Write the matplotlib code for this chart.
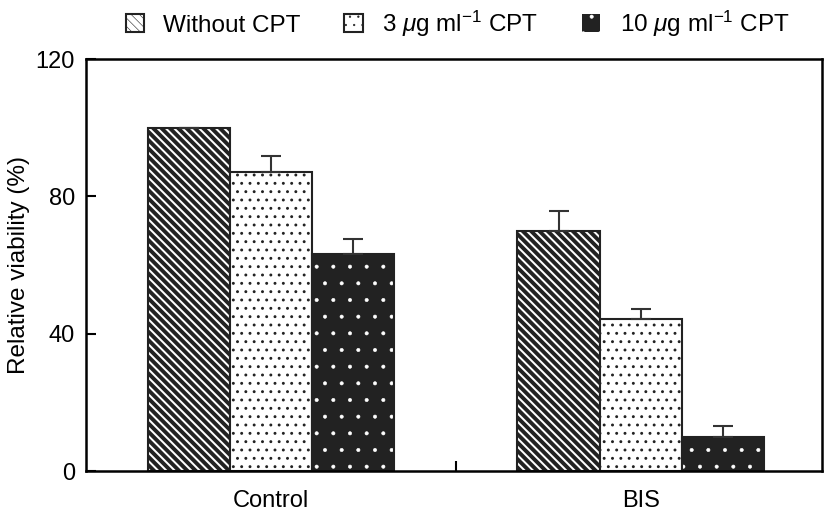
import matplotlib
matplotlib.use("Agg")
import matplotlib.pyplot as plt
import numpy as np

plt.rcParams['font.family'] = ['Liberation Sans', 'DejaVu Sans']
plt.rcParams['mathtext.fontset'] = 'custom'
plt.rcParams['mathtext.rm'] = 'Liberation Sans'
plt.rcParams['mathtext.it'] = 'Liberation Sans:italic'

groups = ['Control', 'BIS']
labels = ['Without CPT', r'3 $\mu$g ml$^{-1}$ CPT', r'10 $\mu$g ml$^{-1}$ CPT']
values = [[100, 70], [87.2, 44.2], [63.1, 9.9]]
errors = [[0, 5.8], [4.7, 2.9], [4.6, 3.2]]

fig = plt.figure(figsize=(8.26, 5.15), dpi=100)
ax = fig.add_axes([0.104, 0.0854, 0.891, 0.7996])

x = np.arange(len(groups))
w = 0.222
dark = '#222222'

handles = []
for i in range(3):
    pos = x + (i - 1) * w
    if i == 0:
        plt.rcParams['hatch.linewidth'] = 2.8
        b = ax.bar(pos, values[i], w, facecolor='white', edgecolor=dark,
                   hatch='\\\\\\\\', linewidth=1.5)
    elif i == 1:
        plt.rcParams['hatch.linewidth'] = 0.9
        b = ax.bar(pos, values[i], w, facecolor='white', edgecolor=dark,
                   hatch='..', linewidth=1.5)
    else:
        plt.rcParams['hatch.linewidth'] = 0.4
        b = ax.bar(pos, values[i], w, facecolor=dark, edgecolor='white',
                   hatch='.', linewidth=0)
        ax.bar(pos, values[i], w, fill=False, edgecolor=dark, linewidth=1.5)
    handles.append(b)
    ax.errorbar(pos, values[i], yerr=[np.zeros(2), errors[i]],
                fmt='none', ecolor='#333333', elinewidth=1.5, capsize=7,
                capthick=1.5)

ax.set_xlim(-0.5, 1.49)
ax.set_ylim(0, 120)
ax.set_yticks([0, 40, 80, 120])
ax.set_xticks(x)
ax.set_xticklabels(groups)
ax.set_xticks([0.5], minor=True)
ax.tick_params(axis='x', which='major', length=0, pad=14, labelsize=17)
ax.tick_params(axis='x', which='minor', direction='in', length=7, width=1.5)
ax.tick_params(axis='y', direction='in', length=7, width=1.5, labelsize=17, pad=8)
for s in ax.spines.values():
    s.set_linewidth(1.8)
ax.set_ylabel('Relative viability (%)', fontsize=17.5, labelpad=4)

ax.legend(handles, labels, loc='lower center', bbox_to_anchor=(0.505, 1.02),
          ncol=3, frameon=False, fontsize=17.5, handlelength=0.75,
          handleheight=0.75, columnspacing=1.8, handletextpad=0.8,
          borderaxespad=0.1)

fig.savefig('out.png', dpi=100)
